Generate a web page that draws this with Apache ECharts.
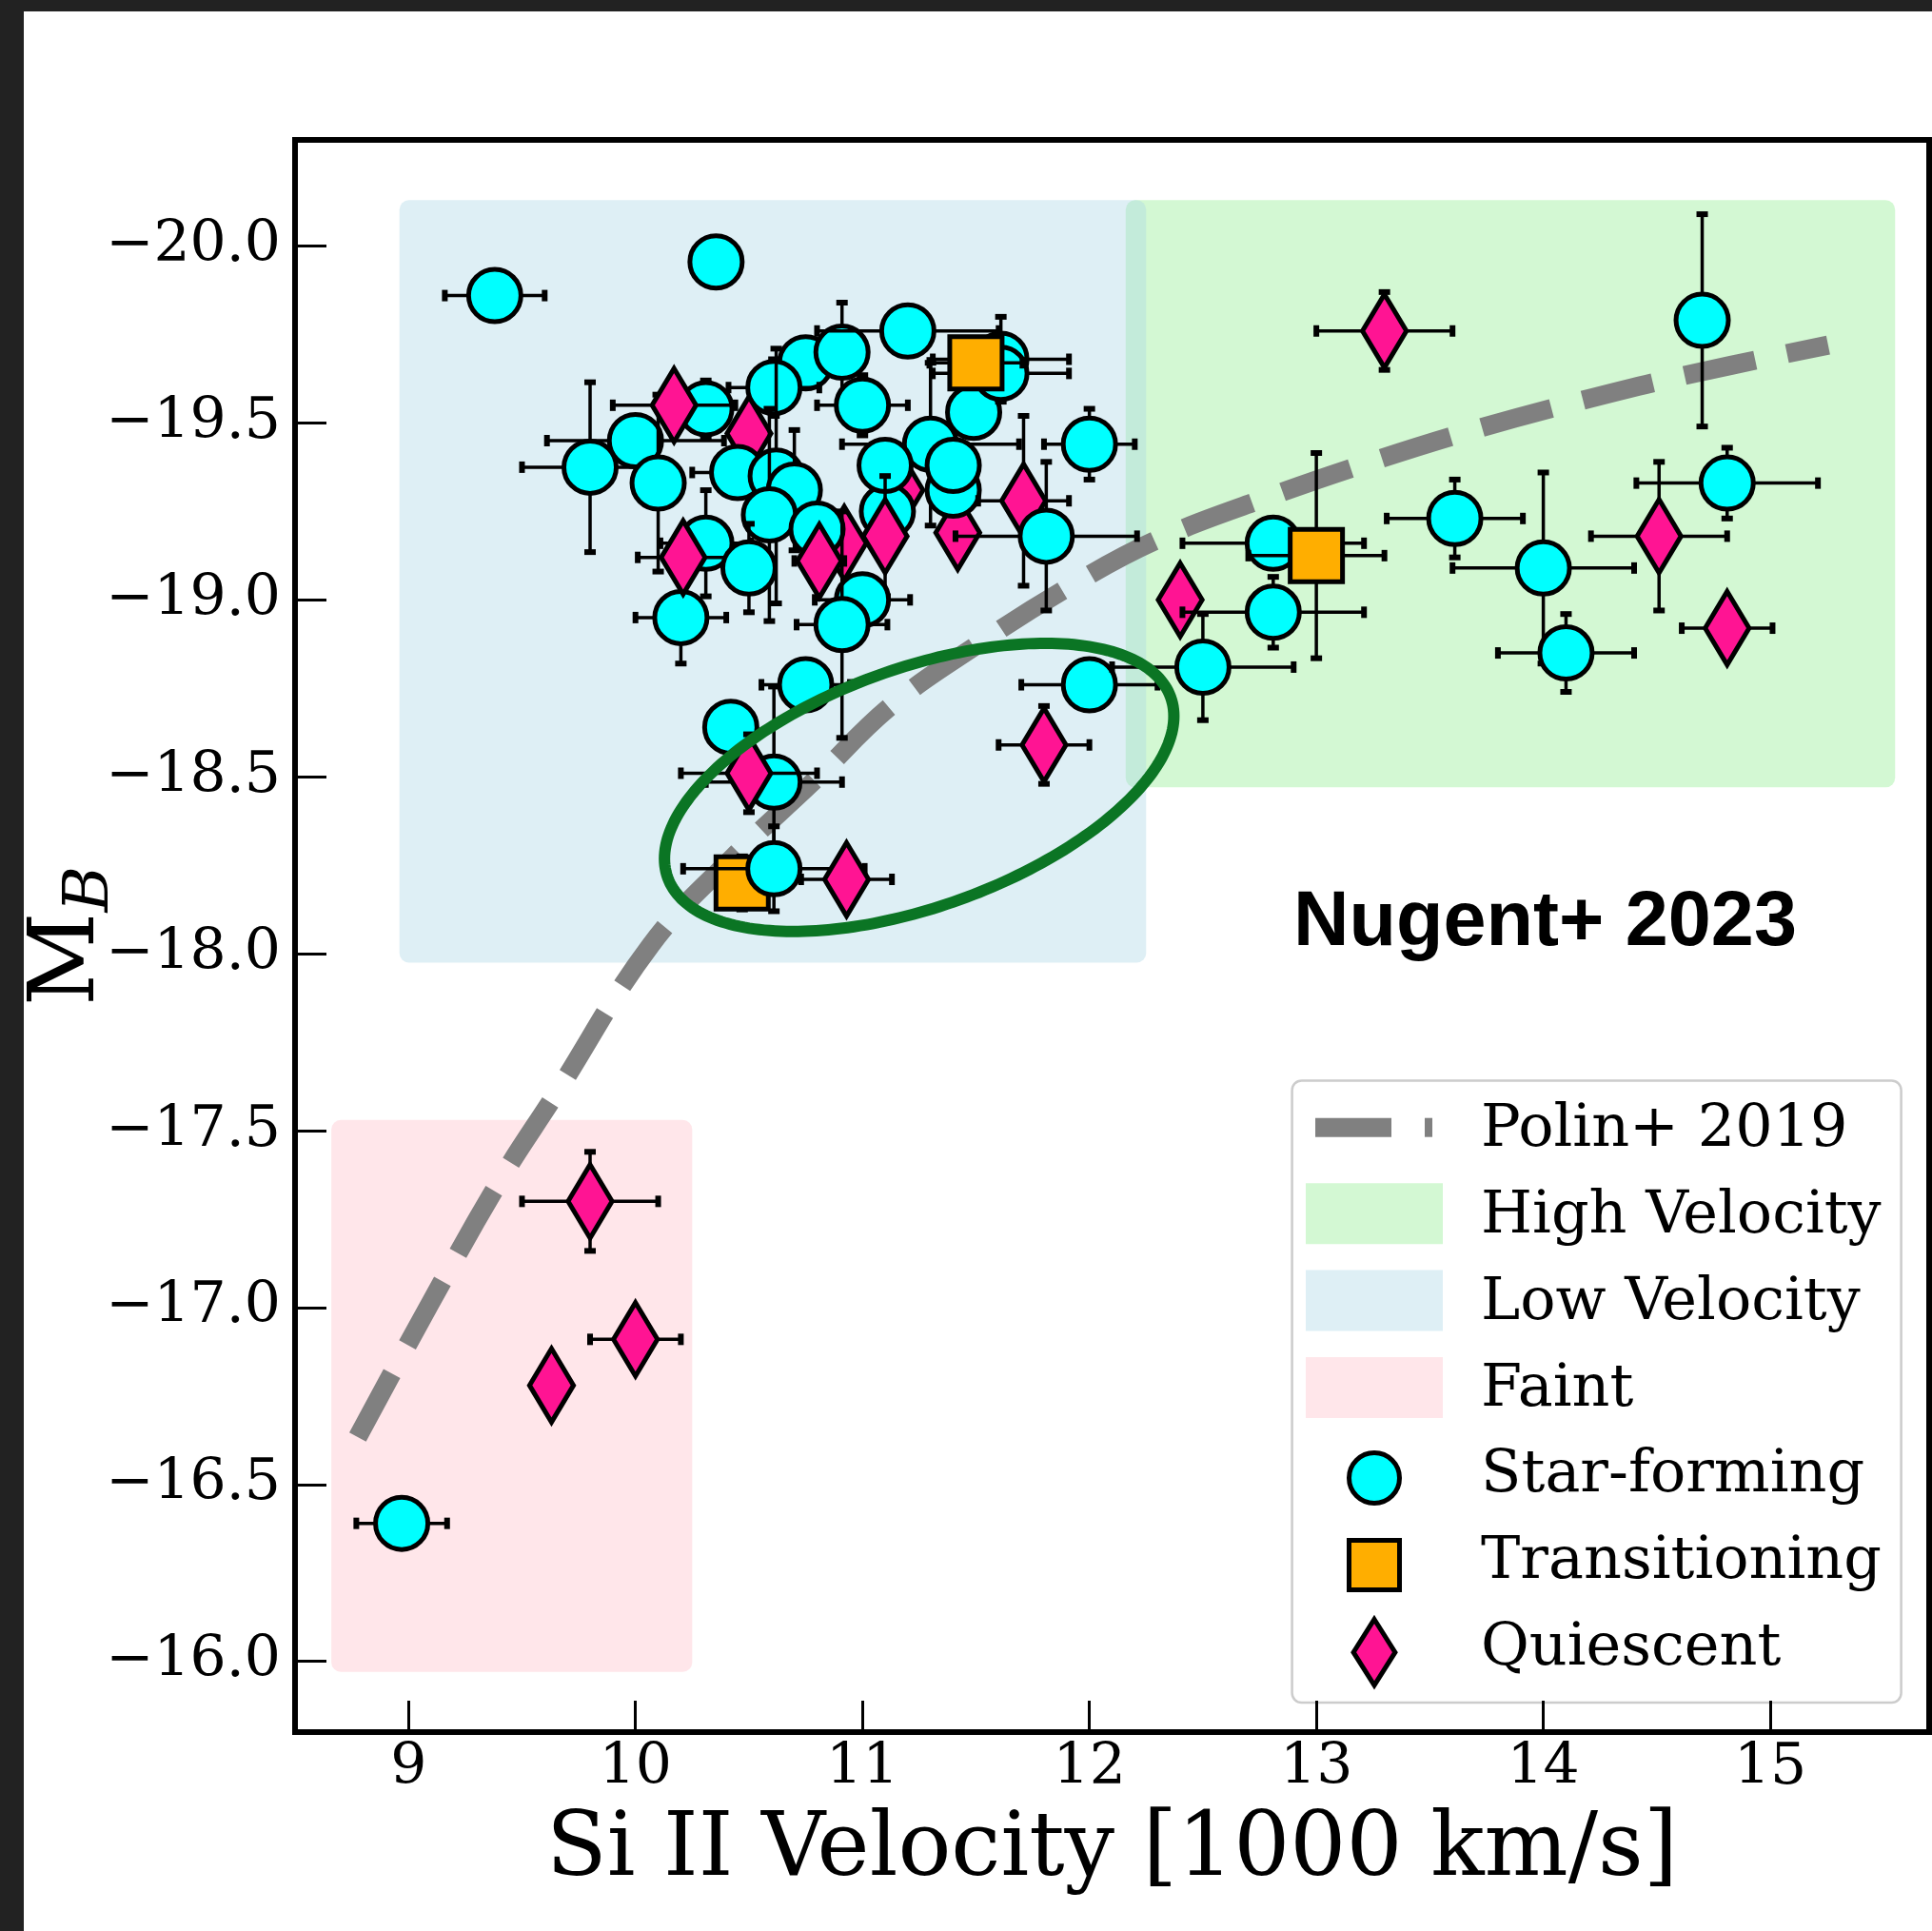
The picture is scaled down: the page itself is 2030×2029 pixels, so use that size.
<!DOCTYPE html>
<html>
<head>
<meta charset="utf-8">
<title>Si II velocity vs. M_B</title>
<script src="https://cdn.jsdelivr.net/npm/echarts@6/dist/echarts.min.js"></script>
<style>
  html, body { margin: 0; padding: 0; background: #ffffff; }
  #chart { width: 2030px; height: 2029px; }
</style>
</head>
<body>
<div id="chart"></div>
<script>
// ---- data -------------------------------------------------------------
const hostClasses = ['Star-forming', 'Transitioning', 'Quiescent'];

// one entry per supernova, in plotting order
const siVelocity = [
  10.75, 10.91, 10.61, 11.20, 10.00, 9.80, 10.10, 10.31, 10.17, 10.50,
  10.45, 10.62, 10.70, 10.59, 10.31, 10.20, 10.21, 10.50, 11.00, 11.30,
  11.49, 11.61, 11.61, 11.50, 11.17, 11.11, 11.10, 11.10, 11.42, 11.40,
  11.40, 12.00, 11.71, 11.81, 10.92, 10.80, 10.81, 11.00, 10.91, 10.75,
  10.42, 10.61, 10.50, 10.47, 10.61, 10.93, 11.80, 12.00, 12.40, 12.81,
  13.00, 12.81, 12.50, 13.61, 14.00, 14.10, 13.30, 14.70, 14.81, 14.51,
  14.81, 9.38, 10.355, 8.97, 9.80, 10.00, 9.63
];
const siVelocityErr = [
  0.10, 0, 0.20, 0.40, 0.39, 0.30, 0, 0.10, 0.27, 0,
  0.20, 0, 0, 0, 0.20, 0.20, 0.20, 0, 0.20, 0.39,
  0, 0.30, 0.30, 0.205, 0, 0, 0, 0, 0, 0,
  0, 0.20, 0.20, 0.40, 0, 0, 0.11, 0.21, 0.20, 0.195,
  0, 0.30, 0.30, 0, 0.40, 0.20, 0.20, 0.30, 0, 0.40,
  0.30, 0.40, 0.40, 0.30, 0.40, 0.30, 0.30, 0, 0.40, 0.30,
  0.20, 0.22, 0, 0.20, 0.30, 0.20, 0
];
const absMagB = [
  -19.67, -19.70, -19.60, -19.76, -19.45, -19.375, -19.33, -19.54, -19.55, -19.47,
  -19.36, -19.35, -19.31, -19.24, -19.16, -18.95, -19.12, -19.09, -19.55, -19.44,
  -19.53, -19.68, -19.64, -19.67, -19.31, -19.25, -19.38, -19.18, -19.19, -19.31,
  -19.38, -19.44, -19.28, -19.18, -19.16, -19.20, -19.11, -19.00, -18.93, -18.76,
  -18.64, -18.485, -18.51, -18.20, -18.24, -18.21, -18.59, -18.76, -19.00, -19.16,
  -19.125, -18.965, -18.81, -19.23, -19.09, -18.85, -19.76, -19.79, -19.33, -19.18,
  -18.92, -19.86, -19.955, -16.39, -17.30, -16.91, -16.78
];
const absMagBErr = [
  0, 0.14, 0.08, 0, 0, 0.24, 0.25, 0.08, 0, 0,
  0, 0.36, 0.17, 0.30, 0.15, 0.13, 0, 0.125, 0.085, 0.23,
  0, 0.12, 0, 0, 0, 0, 0, 0.17, 0, 0,
  0, 0.10, 0.24, 0.21, 0, 0, 0, 0, 0.32, 0,
  0, 0.27, 0.11, 0.075, 0.12, 0, 0.11, 0, 0, 0,
  0.29, 0.10, 0.15, 0.11, 0.27, 0.11, 0.11, 0.30, 0.10, 0.21,
  0, 0, 0, 0, 0.14, 0, 0
];
// 0 = Star-forming, 1 = Transitioning, 2 = Quiescent
const hostClass = [
  0, 0, 0, 0, 0, 0, 0, 0, 2, 2,
  0, 0, 0, 0, 0, 0, 2, 0, 0, 0,
  0, 0, 0, 1, 2, 0, 0, 2, 2, 0,
  0, 0, 2, 0, 2, 0, 2, 0, 0, 0,
  0, 0, 2, 1, 0, 2, 2, 0, 2, 0,
  1, 0, 0, 0, 0, 0, 2, 0, 0, 2,
  2, 0, 0, 0, 2, 2, 2
];

// Polin+ 2019 model track
const polinVelocity = [8.776, 9.090, 9.404, 9.647, 10.067, 10.431, 10.779, 11.123, 11.508, 11.919, 12.296, 12.786, 13.239, 13.696, 14.161, 14.622, 15.255];
const polinMagB     = [-16.634, -17.005, -17.360, -17.602, -18.024, -18.274, -18.484, -18.699, -18.874, -19.040, -19.169, -19.290, -19.390, -19.481, -19.562, -19.634, -19.720];

// shaded regions (drawn in this order)
const regionNames    = ['Faint', 'High Velocity', 'Low Velocity'];
const regionVelocity = [[8.66, 10.25], [12.16, 15.55], [8.96, 12.25]];
const regionMagB     = [[-17.53, -15.97], [-20.13, -18.47], [-20.13, -17.975]];

// highlighted group: centre and semi-axis vectors in data units
const ringCenter = [11.25, -18.47];
const ringMajor  = [1.108, -0.255];
const ringMinor  = [0.178, 0.3175];

const xTicks = [9, 10, 11, 12, 13, 14, 15];
const yTicks = [-20, -19.5, -19, -18.5, -18, -17.5, -17, -16.5, -16];

// ---- styles -----------------------------------------------------------
const SERIF = 'DejaVu Serif';
const REGION_FILL = {
  'Faint': 'rgba(255,192,203,0.4)',
  'High Velocity': 'rgba(144,238,144,0.4)',
  'Low Velocity': 'rgba(173,216,230,0.4)'
};
const CLASS_FILL = ['#00ffff', '#ffae00', '#ff1493'];
const POLIN_COLOR = '#808080';
const RING_COLOR = '#0b7524';

function markerShape(cls, cx, cy) {
  const style = { fill: CLASS_FILL[cls], stroke: '#000', lineWidth: 5, lineJoin: 'miter', miterLimit: 10 };
  if (cls === 0) return { type: 'circle', shape: { cx: cx, cy: cy, r: 27.5 }, style: style };
  if (cls === 1) return { type: 'rect', shape: { x: cx - 27.5, y: cy - 27.5, width: 55, height: 55 }, style: style };
  return { type: 'polygon', shape: { points: [[cx, cy - 38.6], [cx + 23.1, cy], [cx, cy + 38.6], [cx - 23.1, cy]] }, style: style };
}

function renderHost(params, api) {
  const x = api.value(0), y = api.value(1), dx = api.value(2), dy = api.value(3), cls = api.value(4);
  const c = api.coord([x, y]);
  const kids = [];
  const bar = { stroke: '#000', lineWidth: 3.5 };
  const capH = (px) => ({ type: 'rect', shape: { x: px - 3, y: c[1] - 6, width: 6, height: 12 }, style: { fill: '#000' } });
  const capV = (py) => ({ type: 'rect', shape: { x: c[0] - 6, y: py - 3, width: 12, height: 6 }, style: { fill: '#000' } });
  if (dx > 0) {
    const l = api.coord([x - dx, y]), r = api.coord([x + dx, y]);
    kids.push({ type: 'line', shape: { x1: l[0], y1: c[1], x2: r[0], y2: c[1] }, style: bar });
    kids.push(capH(l[0]), capH(r[0]));
  }
  if (dy > 0) {
    const t = api.coord([x, y - dy]), b = api.coord([x, y + dy]);
    kids.push({ type: 'line', shape: { x1: c[0], y1: t[1], x2: c[0], y2: b[1] }, style: bar });
    kids.push(capV(t[1]), capV(b[1]));
  }
  kids.push(markerShape(cls, c[0], c[1]));
  return { type: 'group', children: kids };
}

function renderRegion(params, api) {
  const p1 = api.coord([api.value(0), api.value(1)]);
  const p2 = api.coord([api.value(2), api.value(3)]);
  const name = regionNames[api.value(4)];
  return {
    type: 'rect',
    shape: { x: Math.min(p1[0], p2[0]), y: Math.min(p1[1], p2[1]), width: Math.abs(p2[0] - p1[0]), height: Math.abs(p2[1] - p1[1]), r: 10 },
    style: { fill: REGION_FILL[name] }
  };
}

function renderRing(params, api) {
  const cx = api.value(0), cy = api.value(1);
  const pts = [];
  for (let k = 0; k < 240; k++) {
    const t = k / 240 * Math.PI * 2;
    pts.push(api.coord([
      cx + Math.cos(t) * ringMajor[0] + Math.sin(t) * ringMinor[0],
      cy + Math.cos(t) * ringMajor[1] + Math.sin(t) * ringMinor[1]
    ]));
  }
  return { type: 'polygon', shape: { points: pts }, style: { fill: 'none', stroke: RING_COLOR, lineWidth: 12 } };
}

const fmtMag = (v) => (v < 0 ? '\u2212' : '') + Math.abs(v).toFixed(1);

// ---- legend (drawn as graphic elements) --------------------------------
const LX = 1357.6, LY = 1135.4, LW = 640, LH = 653.6;
const legendTextX = 1556;
const legendBaselines = [1206, 1297.5, 1388.5, 1479, 1569.5, 1660, 1751];
const legendLabels = ['Polin+ 2019', 'High Velocity', 'Low Velocity', 'Faint', 'Star-forming', 'Transitioning', 'Quiescent'];
const legendEls = [
  { type: 'rect', shape: { x: LX, y: LY, width: LW, height: LH, r: 10 }, style: { fill: 'rgba(255,255,255,0.8)', stroke: '#cccccc', lineWidth: 2.5 } },
  { type: 'rect', shape: { x: 1382, y: 1174.7, width: 80, height: 20 }, style: { fill: POLIN_COLOR } },
  { type: 'rect', shape: { x: 1497, y: 1174.7, width: 8, height: 20 }, style: { fill: POLIN_COLOR } },
  { type: 'rect', shape: { x: 1372, y: 1243.2, width: 144, height: 64 }, style: { fill: REGION_FILL['High Velocity'] } },
  { type: 'rect', shape: { x: 1372, y: 1334.4, width: 144, height: 64 }, style: { fill: REGION_FILL['Low Velocity'] } },
  { type: 'rect', shape: { x: 1372, y: 1425.9, width: 144, height: 64 }, style: { fill: REGION_FILL['Faint'] } },
  { type: 'circle', shape: { cx: 1444, cy: 1553, r: 26.5 }, style: { fill: CLASS_FILL[0], stroke: '#000', lineWidth: 5 } },
  { type: 'rect', shape: { x: 1417.5, y: 1618.5, width: 53, height: 52 }, style: { fill: CLASS_FILL[1], stroke: '#000', lineWidth: 5 } },
  { type: 'polygon', shape: { points: [[1444, 1701.5], [1465.9, 1736.2], [1444, 1770.9], [1422.1, 1736.2]] }, style: { fill: CLASS_FILL[2], stroke: '#000', lineWidth: 5, lineJoin: 'miter' } }
];
legendLabels.forEach((txt, i) => {
  legendEls.push({
    type: 'text', x: legendTextX, y: legendBaselines[i] - 18.4,
    style: { text: txt, font: '62px "DejaVu Serif"', fill: '#000', textAlign: 'left', textVerticalAlign: 'middle' }
  });
});

// ---- chart --------------------------------------------------------------
const chart = echarts.init(document.getElementById('chart'), null, { renderer: 'canvas' });
chart.setOption({
  animation: false,
  backgroundColor: '#ffffff',
  grid: {
    left: 310, top: 147, right: 3, bottom: 209,
    outerBoundsMode: 'none', containLabel: false,
    show: true, borderColor: '#000', borderWidth: 6, backgroundColor: 'transparent'
  },
  xAxis: {
    type: 'value', min: 8.5, max: 15.7,
    name: 'Si II Velocity [1000 km/s]', nameLocation: 'middle', nameGap: 79, nameMoveOverlap: false,
    nameTextStyle: { fontFamily: SERIF, fontSize: 93, color: '#000' },
    axisLine: { show: false },
    axisTick: { show: true, inside: true, length: 33, lineStyle: { color: '#000', width: 3 }, customValues: xTicks },
    axisLabel: { customValues: xTicks, margin: 8, fontFamily: SERIF, fontSize: 60, color: '#000', formatter: (v) => String(v) },
    splitLine: { show: false }
  },
  yAxis: {
    type: 'value', inverse: true, min: -20.3, max: -15.8,
    name: '{m|M}{b|B}', nameLocation: 'middle', nameRotate: 90, nameGap: 144.5, nameMoveOverlap: false,
    nameTextStyle: {
      color: '#000',
      rich: {
        m: { fontFamily: SERIF, fontSize: 96, height: 96, lineHeight: 96, verticalAlign: 'top', color: '#000' },
        b: { fontFamily: SERIF, fontSize: 66, fontStyle: 'italic', height: 140, lineHeight: 140, verticalAlign: 'top', color: '#000' }
      }
    },
    axisLine: { show: false },
    axisTick: { show: true, inside: true, length: 33, lineStyle: { color: '#000', width: 3 }, customValues: yTicks },
    axisLabel: { customValues: yTicks, margin: 15, fontFamily: SERIF, fontSize: 60, color: '#000', formatter: fmtMag },
    splitLine: { show: false }
  },
  graphic: [
    { type: 'rect', left: 0, top: 0, shape: { width: 25, height: 2029 }, style: { fill: '#222222' }, z: 100 },
    { type: 'rect', left: 0, top: 0, shape: { width: 2030, height: 12 }, style: { fill: '#222222' }, z: 100 },
    { type: 'text', x: 1359, y: 930, z: 50,
      style: { text: 'Nugent+ 2023', font: 'bold 81px "Liberation Sans"', fill: '#000', textAlign: 'left', textVerticalAlign: 'top' } },
    { type: 'group', z: 60, children: legendEls }
  ],
  series: [
    {
      name: 'regions', type: 'custom', z: 1, silent: true,
      renderItem: renderRegion,
      data: regionVelocity.map((vx, i) => [vx[0], regionMagB[i][0], vx[1], regionMagB[i][1], i]),
      encode: { x: [0, 2], y: [1, 3] }
    },
    {
      name: 'Polin+ 2019', type: 'line', z: 2, silent: true,
      data: polinVelocity.map((v, i) => [v, polinMagB[i]]),
      showSymbol: false, symbol: 'none', smooth: 0.4,
      lineStyle: { color: POLIN_COLOR, width: 20, type: [76, 34], cap: 'butt' }
    },
    {
      name: 'hosts', type: 'custom', z: 3, silent: true,
      renderItem: renderHost,
      data: siVelocity.map((v, i) => [v, absMagB[i], siVelocityErr[i], absMagBErr[i], hostClass[i]]),
      encode: { x: 0, y: 1 }
    },
    {
      name: 'highlight', type: 'custom', z: 4, silent: true,
      renderItem: renderRing,
      data: [ringCenter],
      encode: { x: 0, y: 1 }
    }
  ]
});
</script>
</body>
</html>
